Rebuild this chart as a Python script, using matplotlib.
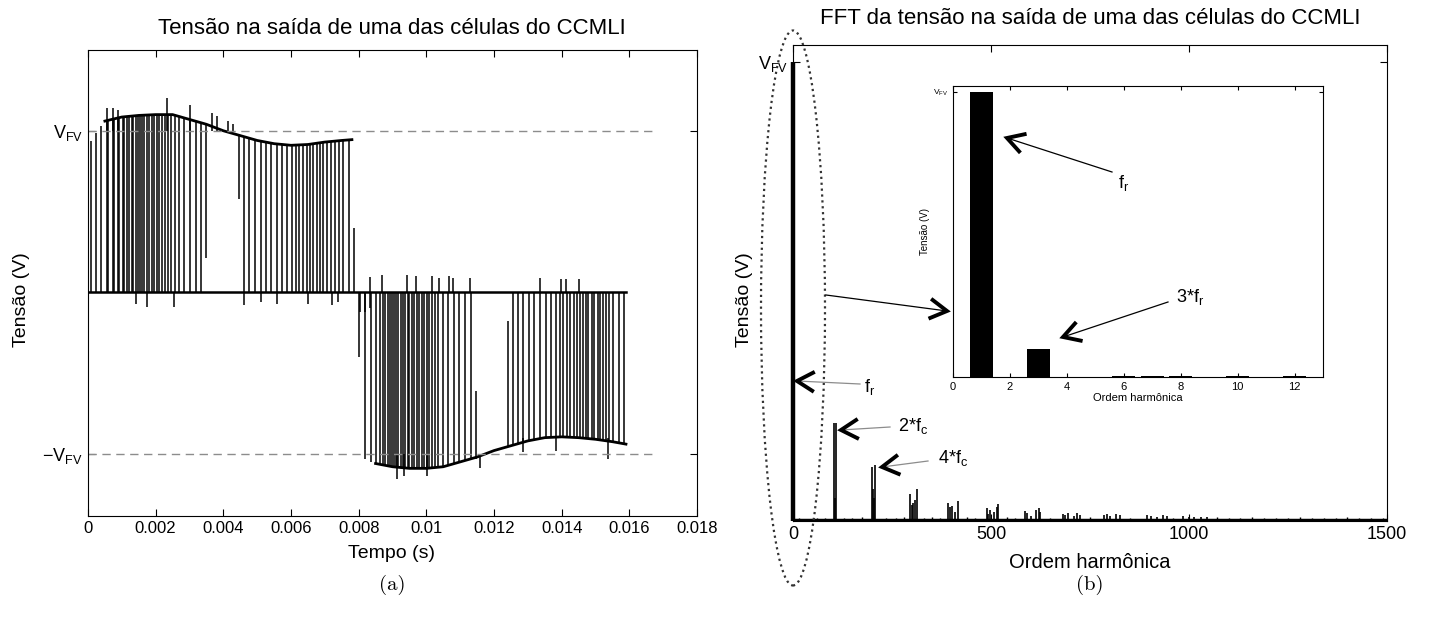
import numpy as np
import matplotlib
matplotlib.use('Agg')
import matplotlib.pyplot as plt
from matplotlib.patches import Ellipse
from matplotlib.lines import Line2D

plt.rcParams['font.family'] = ['Liberation Sans', 'DejaVu Sans']
plt.rcParams['mathtext.default'] = 'regular'

# ---------------- dados (a): tensão na saída da célula (tempos em ms) ----------------
# instantes das comutações (traços verticais)
pulsos_pos1 = [0.08, 0.24, 0.38, 0.55, 0.60, 0.73, 0.78, 0.88, 0.93, 1.03, 1.07, 1.16,
               1.22, 1.29, 1.34, 1.41, 1.47, 1.54, 1.59, 1.66, 1.74, 1.81, 1.88, 1.96,
               2.03, 2.10, 2.20, 2.28, 2.37, 2.45, 2.57, 2.70, 2.85, 3.02, 3.18, 3.33]
pulsos_pos2 = [4.62, 4.77, 4.94, 5.11, 5.25, 5.40, 5.58, 5.73, 5.89, 6.02, 6.14, 6.24,
               6.35, 6.47, 6.56, 6.66, 6.76, 6.86, 6.96, 7.06, 7.18, 7.30, 7.42, 7.55, 7.72]
pulsos_neg1 = [8.19, 8.37, 8.51, 8.63, 8.71, 8.78, 8.86, 8.93, 8.98, 9.05, 9.10, 9.17,
               9.25, 9.32, 9.37, 9.45, 9.50, 9.59, 9.65, 9.72, 9.79, 9.86, 9.94, 10.01,
               10.09, 10.18, 10.26, 10.34, 10.50, 10.65, 10.82, 10.98, 11.14, 11.31]
pulsos_neg2 = [12.57, 12.72, 12.87, 13.04, 13.19, 13.36, 13.53, 13.68, 13.82, 13.95,
               14.05, 14.15, 14.25, 14.35, 14.45, 14.54, 14.64, 14.72, 14.79, 14.89,
               14.97, 15.06, 15.13, 15.23, 15.31, 15.41, 15.53, 15.68, 15.84]

# envoltória (nível alto) em pu de V_FV
env_pos_t = [0.0, 0.25, 0.5, 1.0, 1.5, 2.0, 2.5, 3.0, 3.5, 4.0, 4.5, 5.0, 5.5, 6.0, 6.5, 7.0, 7.5, 7.8]
env_pos_v = [0.91, 0.99, 1.06, 1.085, 1.095, 1.10, 1.10, 1.07, 1.04, 1.00, 0.97, 0.94, 0.92,
             0.91, 0.915, 0.93, 0.94, 0.945]
env_neg_t = [8.0, 8.5, 9.0, 9.5, 10.0, 10.5, 11.0, 11.5, 12.0, 12.5, 13.0, 13.5, 14.0,
             14.5, 15.0, 15.5, 15.9]
env_neg_v = [-1.02, -1.06, -1.08, -1.09, -1.09, -1.08, -1.05, -1.02, -0.98, -0.95, -0.92,
             -0.90, -0.895, -0.90, -0.91, -0.925, -0.94]

# traços parciais e sobre-sinais: (t, y_inicial, y_final)
picos_t = [3.50, 4.46, 7.87, 8.02, 11.46, 12.42,
           0.55, 0.73, 0.88, 2.33, 3.02, 3.66, 3.82, 4.14, 4.29,
           1.41, 1.73, 2.55, 4.62, 5.10, 5.58, 6.49, 7.20, 7.39, 8.04, 8.19, 8.33,
           8.34, 8.70, 9.42, 9.69, 10.16, 10.36, 10.67, 10.80, 11.29,
           9.12, 9.35, 10.01, 11.59, 12.87, 13.82, 15.38,
           13.36, 13.98, 14.12, 14.51]
picos_y0 = [0.21, 0.58, 0.0, -0.40, -1.03, -0.95,
            1.0, 1.0, 1.0, 1.0, 1.0, 1.0, 1.0, 1.0, 1.0,
            0.0, 0.0, 0.0, 0.0, 0.0, 0.0, 0.0, 0.0, 0.0, 0.0, 0.0, 0.0,
            0.0, 0.0, 0.0, 0.0, 0.0, 0.0, 0.0, 0.0, 0.0,
            -1.0, -1.0, -1.0, -1.0, -0.9, -0.9, -0.9,
            0.0, 0.0, 0.0, 0.0]
picos_y1 = [1.04, 0.98, 0.40, 0.0, -0.61, -0.18,
            1.14, 1.14, 1.13, 1.20, 1.16, 1.11, 1.09, 1.06, 1.04,
            -0.07, -0.09, -0.09, -0.08, -0.06, -0.07, -0.07, -0.08, -0.06, -0.12, -0.12, -0.10,
            0.095, 0.105, 0.105, 0.10, 0.10, 0.09, 0.10, 0.09, 0.09,
            -1.155, -1.14, -1.14, -1.09, -0.99, -0.98, -1.03,
            0.087, 0.08, 0.08, 0.08]
fim_sinal = 15.9          # ms
periodo = 1000 / 60.0     # ms, linhas tracejadas de referência

tempo_ticks = [0, 0.002, 0.004, 0.006, 0.008, 0.01, 0.012, 0.014, 0.016, 0.018]
tempo_labels = ['0', '0.002', '0.004', '0.006', '0.008', '0.01', '0.012', '0.014', '0.016', '0.018']

# ---------------- dados (b): FFT ----------------
ordens = [103, 105, 108, 199, 202, 205, 208, 296, 300, 304, 308, 312, 392, 396, 401, 410,
          416, 489, 493, 497, 508, 514, 518, 586, 590, 600, 614, 620, 624, 682, 688, 695,
          710, 718, 725, 785, 792, 800, 815, 826, 895, 905, 920, 935, 944, 985, 1000, 1012,
          1030, 1045]
amplitudes = [0.214, 0.05, 0.213, 0.118, 0.07, 0.05, 0.121, 0.058, 0.035, 0.04, 0.045, 0.069,
              0.04, 0.03, 0.032, 0.02, 0.043, 0.029, 0.015, 0.024, 0.02, 0.03, 0.036, 0.022,
              0.018, 0.01, 0.025, 0.028, 0.02, 0.016, 0.012, 0.018, 0.01, 0.017, 0.014, 0.013,
              0.015, 0.01, 0.015, 0.012, 0.012, 0.01, 0.009, 0.012, 0.01, 0.01, 0.009, 0.008,
              0.009, 0.008]
ruido_ordens = [15, 40, 60, 80, 130, 150, 175, 235, 260, 280, 330, 350, 370, 440, 460, 540,
                560, 650, 750, 850, 960, 1070, 1100, 1130, 1160, 1190, 1220, 1250, 1280, 1310,
                1340, 1370, 1400, 1430, 1460, 1490]
ruido_amp = [0.006, 0.005, 0.007, 0.006, 0.007, 0.006, 0.008, 0.007, 0.006, 0.008, 0.007,
             0.009, 0.006, 0.008, 0.007, 0.008, 0.006, 0.007, 0.008, 0.007, 0.006, 0.008,
             0.007, 0.006, 0.008, 0.007, 0.006, 0.007, 0.008, 0.006, 0.007, 0.006, 0.008,
             0.006, 0.007, 0.006]
fundamental = 1.0

# detalhe (inset)
inset_ordem = [1, 3, 6, 7, 8, 10, 12]
inset_amp = [1.0, 0.098, 0.005, 0.003, 0.004, 0.004, 0.004]

W, H = 1430, 621
fig = plt.figure(figsize=(W / 100, H / 100), dpi=100)


def fx(x):
    return x / W


def fy(y):
    return 1 - y / H


# ---------------- (a) ----------------
ax1 = fig.add_axes([fx(88), fy(516), fx(697) - fx(88), fy(50) - fy(516)])

pos = np.array(pulsos_pos1 + pulsos_pos2)
neg = np.array(pulsos_neg1 + pulsos_neg2)
ax1.vlines(pos / 1000, 0, np.interp(pos, env_pos_t, env_pos_v), color='k', lw=1.1)
ax1.vlines(neg / 1000, np.interp(neg, env_neg_t, env_neg_v), 0, color='k', lw=1.1)
ax1.vlines(np.array(picos_t) / 1000, picos_y0, picos_y1, color='k', lw=1.1)

env_pos_t = np.array(env_pos_t)
env_pos_v = np.array(env_pos_v)
m = env_pos_t >= 0.5
ax1.plot(env_pos_t[m] / 1000, env_pos_v[m], 'k', lw=2)
env_neg_t = np.array(env_neg_t)
m = env_neg_t >= 8.2
ax1.plot(env_neg_t[m] / 1000, np.array(env_neg_v)[m], 'k', lw=2)
ax1.plot([0, fim_sinal / 1000], [0, 0], 'k', lw=1.8)
ax1.hlines([1, -1], 0, periodo / 1000, colors='0.55', linestyles=(0, (6, 4)), lw=1)

ax1.set_xlim(0, 0.018)
ax1.set_ylim(-1.385, 1.50)
ax1.set_xticks(tempo_ticks)
ax1.set_xticklabels(tempo_labels, fontsize=12)
ax1.set_yticks([-1, 1])
ax1.set_yticklabels([r'$-V_{FV}$', r'$V_{FV}$'], fontsize=13)
ax1.tick_params(direction='in', top=True, right=True, length=5)

fig.text(fx(392), fy(28), 'Tensão na saída de uma das células do CCMLI', ha='center', va='center', fontsize=16)
fig.text(fx(392), fy(553), 'Tempo (s)', ha='center', va='center', fontsize=14)
fig.text(fx(22), fy(300), 'Tensão (V)', ha='center', va='center', rotation=90, fontsize=14)
fig.text(fx(392), fy(585), '(a)', ha='center', va='center', fontsize=15, family='cmr10')

# ---------------- (b) ----------------
ax2 = fig.add_axes([fx(793), fy(521), fx(1387) - fx(793), fy(45) - fy(521)])
ax2.vlines(ordens, 0, amplitudes, color='k', lw=1.2)
ax2.vlines(ruido_ordens, 0, ruido_amp, color='k', lw=1.0)
ax2.vlines([1], 0, [fundamental], color='k', lw=3.2, clip_on=False)
ax2.plot([0, 1500], [0.002, 0.002], 'k', lw=2.5)
ax2.set_xlim(0, 1500)
ax2.set_ylim(0, 1.037)
ax2.set_xticks([0, 500, 1000, 1500])
ax2.set_xticklabels(['0', '500', '1000', '1500'], fontsize=13)
ax2.set_yticks([1.0])
ax2.set_yticklabels([r'$V_{FV}$'], fontsize=13)
ax2.tick_params(direction='in', top=True, right=True, length=5)

fig.text(fx(1090), fy(18), 'FFT da tensão na saída de uma das células do CCMLI', ha='center', va='center', fontsize=16)
fig.text(fx(1090), fy(562), 'Ordem harmônica', ha='center', va='center', fontsize=14.5)
fig.text(fx(745), fy(300), 'Tensão (V)', ha='center', va='center', rotation=90, fontsize=14)
fig.text(fx(1090), fy(585), '(b)', ha='center', va='center', fontsize=15, family='cmr10')

# inset
axi = fig.add_axes([fx(953), fy(377), fx(1323) - fx(953), fy(86) - fy(377)])
axi.bar(inset_ordem, inset_amp, width=0.8, color='k')
axi.set_xlim(0, 13)
axi.set_ylim(0, 1.02)
axi.set_xticks([0, 2, 4, 6, 8, 10, 12])
axi.tick_params(direction='in', top=True, right=True, length=3, labelsize=8)
axi.set_yticks([1.0])
axi.set_yticklabels([r'$V_{FV}$'], fontsize=6)
axi.set_xlabel('Ordem harmônica', fontsize=8, labelpad=1)
axi.set_ylabel('Tensão (V)', fontsize=7, labelpad=2)


# setas: haste fina + ponta aberta "<" grossa (coordenadas em pixels da figura)
def seta(ponta, cauda, cor='k', braco=20, ang=30):
    px, py = ponta
    fig.add_artist(Line2D([fx(cauda[0]), fx(px)], [fy(cauda[1]), fy(py)], color=cor, lw=0.9,
                          transform=fig.transFigure))
    d = np.array(cauda, float) - np.array(ponta, float)
    d = d / np.hypot(*d)
    xs, ys = [], []
    for s in (1, -1):
        a = np.radians(s * ang)
        r = np.array([d[0] * np.cos(a) - d[1] * np.sin(a), d[0] * np.sin(a) + d[1] * np.cos(a)])
        xs.append(px + braco * r[0])
        ys.append(py + braco * r[1])
    hx = [fx(xs[0]), fx(px), fx(xs[1])]
    hy = [fy(ys[0]), fy(py), fy(ys[1])]
    fig.add_artist(Line2D(hx, hy, color='k', lw=2.8, solid_joinstyle='miter',
                          solid_capstyle='butt', transform=fig.transFigure))


seta((1007, 138), (1112, 172))
fig.text(fx(1124), fy(183), r'$f_r$', ha='center', va='center', fontsize=13)
seta((1063, 337), (1168, 302))
fig.text(fx(1190), fy(297), r'3*$f_r$', ha='center', va='center', fontsize=13)
seta((947, 311), (826, 295))
seta((797, 381), (860, 384), cor='0.55')
fig.text(fx(870), fy(387), r'$f_r$', ha='center', va='center', fontsize=13)
seta((841, 430), (890, 427), cor='0.55')
fig.text(fx(913), fy(426), r'2*$f_c$', ha='center', va='center', fontsize=13)
seta((882, 467), (928, 461), cor='0.55')
fig.text(fx(953), fy(458), r'4*$f_c$', ha='center', va='center', fontsize=13)

fig.add_artist(Ellipse((fx(793), fy(308)), fx(64), 555 / H, fill=False, ls=':', lw=1.6,
                       color='0.2', transform=fig.transFigure))

fig.savefig('out.png', dpi=100)
